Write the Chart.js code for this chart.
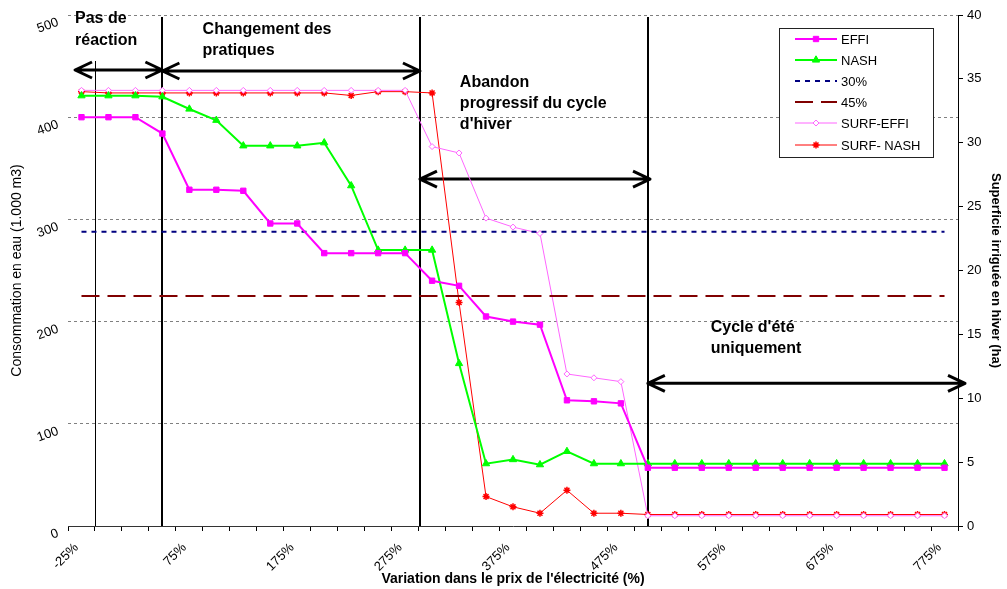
<!DOCTYPE html>
<html lang="fr">
<head>
<meta charset="utf-8">
<title>Consommation en eau et superficie irriguée</title>
<script src="https://cdn.jsdelivr.net/npm/chart.js@4.4.1/dist/chart.umd.min.js"></script>
<style>
  html, body { margin: 0; padding: 0; background: #fff; }
  #wrap { width: 1007px; height: 589px; }
</style>
</head>
<body>
<div id="wrap"><canvas id="waterChart" width="1007" height="589"></canvas></div>
<script>
const FONT = "Arial, 'Liberation Sans', sans-serif";

// Variation du prix de l'électricité
const categories = ['-25%', '0%', '25%', '50%', '75%', '100%', '125%', '150%', '175%', '200%', '225%',
    '250%', '275%', '300%', '325%', '350%', '375%', '400%', '425%', '450%', '475%', '500%', '525%',
    '550%', '575%', '600%', '625%', '650%', '675%', '700%', '725%', '750%', '775%'];

// Consommation en eau (1.000 m3)
const effi = [400, 400, 400, 384, 329, 329, 328, 296, 296, 267, 267, 267, 267, 240, 235, 205, 200, 197,
    123, 122, 120, 57, 57, 57, 57, 57, 57, 57, 57, 57, 57, 57, 57];
const nash = [421, 421, 421, 420, 408, 397, 372, 372, 372, 375, 333, 270, 270, 270, 159, 61, 65, 60,
    73, 61, 61, 61, 61, 61, 61, 61, 61, 61, 61, 61, 61, 61, 61];
// seuils 30% et 45%
const seuils = [288, 225];

// Superficie irriguée en hiver (ha)
const surfEffi = [34.1, 34.1, 34.1, 34.1, 34.1, 34.1, 34.1, 34.1, 34.1, 34.1, 34.1, 34.1, 34.1, 29.7,
    29.2, 24.1, 23.4, 22.9, 11.9, 11.6, 11.3, 0.8, 0.8, 0.8, 0.8, 0.8, 0.8, 0.8, 0.8, 0.8, 0.8, 0.8, 0.8];
const surfNash = [34.0, 33.9, 33.9, 33.9, 33.9, 33.9, 33.9, 33.9, 33.9, 33.9, 33.7, 34.0, 34.0, 33.9,
    17.5, 2.3, 1.5, 1.0, 2.8, 1.0, 1.0, 0.9, 0.9, 0.9, 0.9, 0.9, 0.9, 0.9, 0.9, 0.9, 0.9, 0.9, 0.9];

const leftTicks = [0, 100, 200, 300, 400, 500];
const rightTicks = [0, 5, 10, 15, 20, 25, 30, 35, 40];

function flatLine(value) {
    return [{ x: categories[0], y: value }, { x: categories[categories.length - 1], y: value }];
}

function drawArrow(ctx, x1, x2, y) {
    const head = 17, spread = 8;
    ctx.beginPath();
    ctx.moveTo(x1, y);
    ctx.lineTo(x2, y);
    ctx.moveTo(x1 + head, y - spread);
    ctx.lineTo(x1, y);
    ctx.lineTo(x1 + head, y + spread);
    ctx.moveTo(x2 - head, y - spread);
    ctx.lineTo(x2, y);
    ctx.lineTo(x2 - head, y + spread);
    ctx.stroke();
}

// vertical axes: keep the plot box fixed, labels may overflow
function fixAxis(width) {
    return s => {
        s.width = width;
        s.paddingTop = 0;
        s.paddingBottom = 0;
    };
}

// separateurs, fleches et titres des phases
const phasesPlugin = {
    id: 'phases',
    beforeDatasetsDraw(chart) {
        const { ctx, scales: { x, y } } = chart;
        const px = i => x.getPixelForValue(i);
        const py = v => y.getPixelForValue(v);
        ctx.save();
        ctx.strokeStyle = '#000';

        ctx.lineWidth = 1;
        ctx.beginPath();
        ctx.moveTo(Math.round(px(0.5)) + 0.5, py(455));
        ctx.lineTo(Math.round(px(0.5)) + 0.5, py(0));
        ctx.stroke();

        ctx.lineWidth = 2;
        [3, 12.55, 21].forEach(i => {
            ctx.beginPath();
            ctx.moveTo(Math.round(px(i)), py(498));
            ctx.lineTo(Math.round(px(i)), py(0));
            ctx.stroke();
        });

        ctx.lineWidth = 3;
        ctx.lineJoin = 'round';
        ctx.lineCap = 'butt';
        drawArrow(ctx, px(-0.24), px(3), py(446.2));
        drawArrow(ctx, px(3), px(12.55), py(445.2));
        drawArrow(ctx, px(12.55), px(21.08), py(339.5));
        drawArrow(ctx, px(21), px(32.76), py(139.6));

        ctx.fillStyle = '#000';
        ctx.font = `bold 16px ${FONT}`;
        ctx.textAlign = 'left';
        ctx.textBaseline = 'alphabetic';
        const labels = [
            ['Pas de', -0.24, 491.9], ['réaction', -0.24, 470.6],
            ['Changement des', 4.49, 481.4], ['pratiques', 4.49, 460.9],
            ['Abandon', 14.03, 429.8], ['progressif du cycle', 14.03, 408.7], ["d'hiver", 14.03, 388.2],
            ["Cycle d'été", 23.33, 190.1], ['uniquement', 23.33, 169.6]
        ];
        labels.forEach(([t, i, v]) => ctx.fillText(t, px(i), py(v)));
        ctx.restore();
    }
};

// legende encadree dans la zone du graphique
const legendPlugin = {
    id: 'legendBox',
    afterDraw(chart) {
        const { ctx, chartArea } = chart;
        const left = chartArea.right - 179, top = chartArea.top + 13, w = 154, h = 129;
        ctx.save();
        ctx.fillStyle = '#fff';
        ctx.fillRect(left, top, w, h);
        ctx.strokeStyle = '#222';
        ctx.lineWidth = 1;
        ctx.strokeRect(left + 0.5, top + 0.5, w, h);

        chart.data.datasets.forEach((ds, i) => {
            const yy = Math.round(top + 10.5 + i * 21.2);
            ctx.setLineDash(ds.borderDash || []);
            ctx.strokeStyle = ds.borderColor;
            ctx.lineWidth = ds.borderWidth;
            ctx.beginPath();
            ctx.moveTo(left + 16, yy);
            ctx.lineTo(left + 58, yy);
            ctx.stroke();
            ctx.setLineDash([]);
            if (ds.pointRadius > 0) {
                ctx.fillStyle = ds.pointBackgroundColor;
                ctx.strokeStyle = ds.pointBorderColor;
                ctx.lineWidth = ds.pointBorderWidth;
                Chart.helpers.drawPoint(ctx, {
                    pointStyle: ds.pointStyle,
                    radius: ds.pointRadius,
                    borderWidth: ds.pointBorderWidth,
                    rotation: 0
                }, left + 37, yy);
            }
            ctx.fillStyle = '#000';
            ctx.font = `13px ${FONT}`;
            ctx.textAlign = 'left';
            ctx.textBaseline = 'middle';
            ctx.fillText(ds.label, left + 62, yy + 1);
        });
        ctx.restore();
    }
};

const ctx = document.getElementById('waterChart').getContext('2d');
const waterChart = new Chart(ctx, {
    type: 'line',
    data: {
        labels: categories,
        datasets: [
            {
                label: 'EFFI', data: effi, yAxisID: 'y',
                borderColor: '#FF00FF', backgroundColor: '#FF00FF', borderWidth: 2,
                pointStyle: 'rect', pointRadius: 3.8, pointBackgroundColor: '#FF00FF',
                pointBorderColor: '#FF00FF', pointBorderWidth: 1
            },
            {
                label: 'NASH', data: nash, yAxisID: 'y',
                borderColor: '#00FF00', backgroundColor: '#00FF00', borderWidth: 2,
                pointStyle: 'triangle', pointRadius: 4.2, pointBackgroundColor: '#00FF00',
                pointBorderColor: '#00FF00', pointBorderWidth: 1
            },
            {
                label: '30%', data: flatLine(seuils[0]), yAxisID: 'y',
                borderColor: '#000080', borderWidth: 2, borderDash: [5, 5], pointRadius: 0
            },
            {
                label: '45%', data: flatLine(seuils[1]), yAxisID: 'y',
                borderColor: '#800000', borderWidth: 2, borderDash: [18, 8], pointRadius: 0
            },
            {
                label: 'SURF-EFFI', data: surfEffi, yAxisID: 'y2',
                borderColor: '#FF66FF', backgroundColor: '#FF66FF', borderWidth: 1,
                pointStyle: 'rectRot', pointRadius: 3, pointBackgroundColor: '#fff',
                pointBorderColor: '#FF66FF', pointBorderWidth: 1
            },
            {
                label: 'SURF- NASH', data: surfNash, yAxisID: 'y2',
                borderColor: '#FF0000', backgroundColor: '#FF0000', borderWidth: 1,
                pointStyle: 'star', pointRadius: 3.5, pointBackgroundColor: '#FF0000',
                pointBorderColor: '#FF0000', pointBorderWidth: 1.5
            }
        ]
    },
    options: {
        responsive: false,
        animation: false,
        devicePixelRatio: 1,
        layout: { padding: { top: 15, left: 0, right: 0, bottom: 0 } },
        elements: { line: { tension: 0, fill: false } },
        plugins: {
            legend: { display: false },
            tooltip: { enabled: false }
        },
        scales: {
            x: {
                type: 'category',
                offset: true,
                grid: { drawOnChartArea: false, offset: true, tickLength: 5, color: '#000' },
                border: { color: '#333' },
                ticks: {
                    autoSkip: false, minRotation: 45, maxRotation: 45, padding: 9, labelOffset: -5,
                    color: '#000', font: { family: FONT, size: 13 },
                    callback: (v, i) => (i % 4 === 0 ? categories[i] : '')
                },
                title: {
                    display: true, text: "Variation dans le prix de l'électricité (%)", color: '#000',
                    font: { family: FONT, size: 14, weight: 'bold' }, padding: { top: 0, bottom: 1 }
                },
                afterFit: s => { s.height = 63; }
            },
            y: {
                position: 'left',
                min: 0, max: 500,
                afterBuildTicks: s => { s.ticks = leftTicks.map(v => ({ value: v })); },
                ticks: {
                    minRotation: 20, maxRotation: 20, padding: 10, labelOffset: 7,
                    color: '#000', font: { family: FONT, size: 13 }
                },
                grid: {
                    drawTicks: false,
                    color: c => (c.tick && c.tick.value === 0 ? 'rgba(0,0,0,0)' : '#808080')
                },
                border: { display: false, dash: [3, 3] },
                title: {
                    display: true, text: 'Consommation en eau (1.000 m3)', color: '#000',
                    font: { family: FONT, size: 14 }, padding: { top: 8.5, bottom: 0 }
                },
                afterFit: fixAxis(68)
            },
            y2: {
                position: 'right',
                min: 0, max: 40,
                afterBuildTicks: s => { s.ticks = rightTicks.map(v => ({ value: v })); },
                ticks: { padding: 4, color: '#000', font: { family: FONT, size: 13 } },
                grid: { drawOnChartArea: false, tickLength: 5, color: '#000' },
                border: { color: '#000' },
                title: {
                    display: true, text: 'Superficie irriguée en hiver (ha)', color: '#000',
                    font: { family: FONT, size: 13, weight: 'bold' }, padding: { top: 3.5, bottom: 0 }
                },
                afterFit: fixAxis(49)
            }
        }
    },
    plugins: [phasesPlugin, legendPlugin]
});
</script>
</body>
</html>
